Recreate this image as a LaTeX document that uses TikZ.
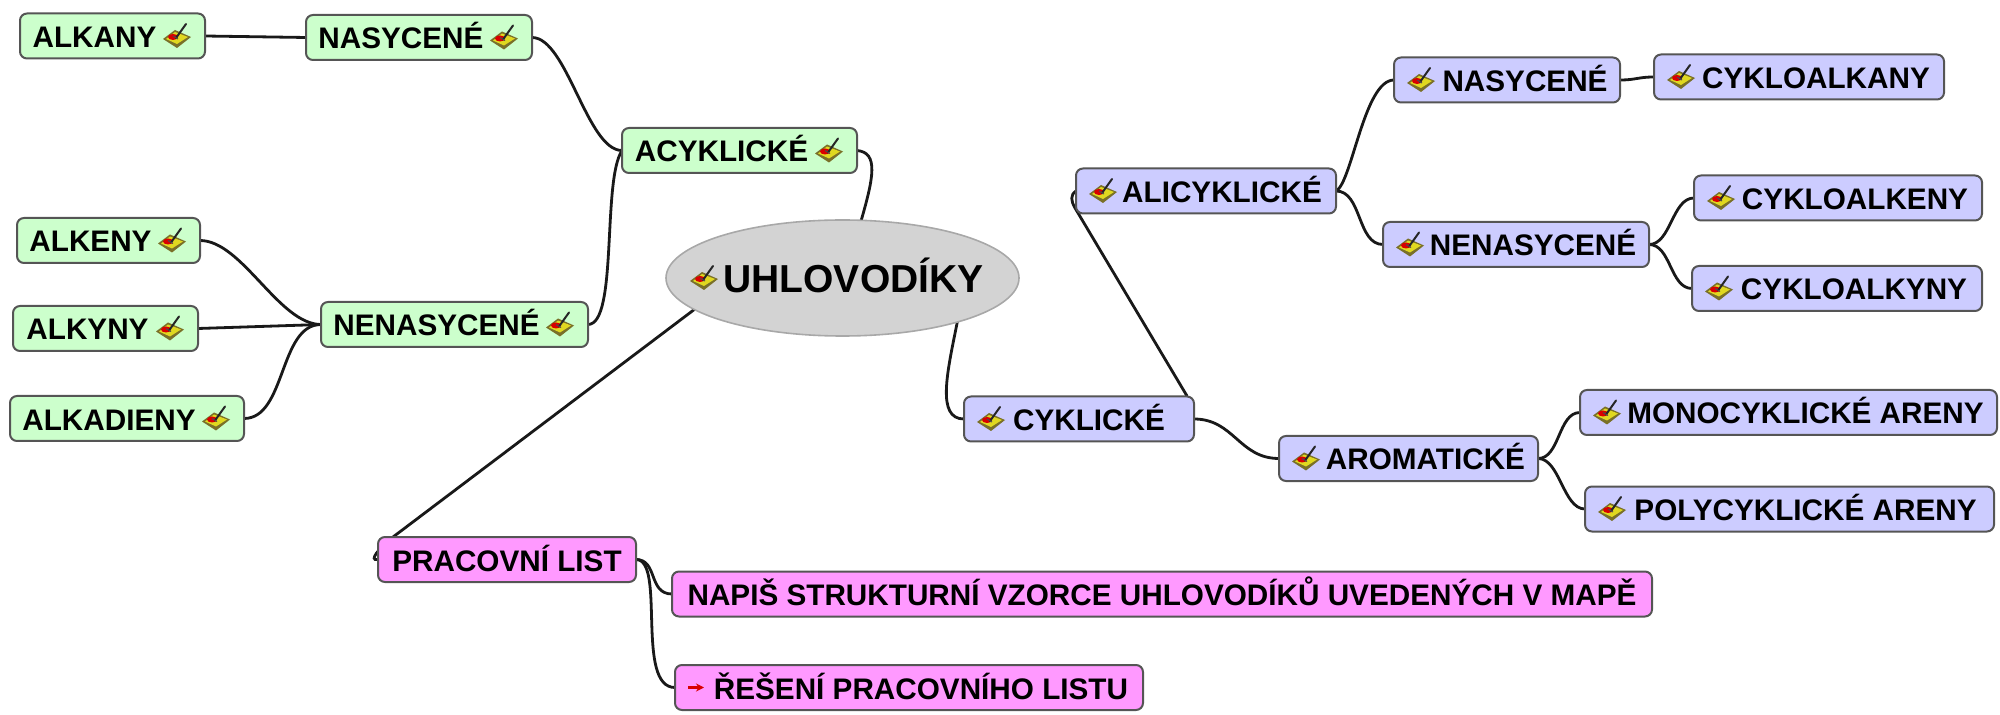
\documentclass[tikz,border=0pt]{standalone}
\usepackage{fontspec}
\setmainfont{Liberation Sans}
\usetikzlibrary{shapes.geometric,backgrounds,arrows.meta}
\definecolor{gfill}{HTML}{CCFFCC}
\definecolor{bfill}{HTML}{CCCCFF}
\definecolor{pfill}{HTML}{FF99FF}
\definecolor{edgec}{HTML}{555555}
\definecolor{rootf}{HTML}{D3D3D3}
\definecolor{rootb}{HTML}{A8A8A8}
\definecolor{booky}{HTML}{E0D820}
\definecolor{bookb}{HTML}{7A7028}
\newcommand{\icl}[1]{\hspace*{18pt}#1}
\newcommand{\icr}[1]{#1\hspace*{18pt}}
\tikzset{
  topic/.style={draw=edgec,line width=1pt,rounded corners=3.5pt,inner sep=0pt,outer sep=0pt,
    minimum height=22.5pt,text height=11.5pt,text depth=0pt,text=black,
    font=\fontsize{14.85pt}{16pt}\selectfont\bfseries},
  wd/.style={minimum width=#1*0.5pt},
  gbox/.style={topic,fill=gfill},
  bbox/.style={topic,fill=bfill},
  pbox/.style={topic,fill=pfill},
  conn/.style={line width=1.4pt,draw=black!90,line cap=round},
  sc/.style={to path={.. controls +(#1,0) and +(-#1,0) .. (\tikztotarget)}},
  pics/brush/.style={code={
    \fill[bookb] (-14,4) -- (-2,-5) -- (14,2) -- (0,13) -- cycle;
    \fill[booky] (-11,4) -- (-2,-3) -- (11,2) -- (0,9) -- cycle;
    \fill[red!85!black] (-4,2) ellipse [x radius=5,y radius=3];
    \draw[black!85,line width=1pt,line cap=round] (-1,3) -- (9,-11);
    \draw[black!70,line width=0.5pt] (-4,1) -- (1,4);
  }}
}
\begin{document}
\begin{tikzpicture}[x=0.5pt,y=-0.5pt]
\useasboundingbox (0,0) rectangle (2000,715);
% root
\node[ellipse,draw=rootb,line width=0.8pt,fill=rootf,inner sep=0pt,outer sep=0pt,minimum width=176.5pt,minimum height=58pt,
  text height=15pt,text depth=0pt,font=\fontsize{19.5pt}{22pt}\selectfont\bfseries] (root) at (842.5,278) {\makebox[0pt][c]{\hspace*{11pt}UHLOVODÍKY}};
% green
\node[gbox,wd=185] (alkany) at (112.5,36) {\icr{ALKANY}};
\node[gbox,wd=226] (nasl) at (419,37.5) {\icr{NASYCENÉ}};
\node[gbox,wd=235] (acy) at (739.5,150.5) {\icr{ACYKLICKÉ}};
\node[gbox,wd=183] (alkeny) at (108.5,240.5) {\icr{ALKENY}};
\node[gbox,wd=185] (alkyny) at (105.5,328.5) {\icr{ALKYNY}};
\node[gbox,wd=234] (alkad) at (127,418.5) {\icr{ALKADIENY}};
\node[gbox,wd=267] (nenl) at (454.5,324.5) {\icr{NENASYCENÉ}};
% blue
\node[bbox,wd=260] (ali) at (1206,191) {\hspace*{16pt}ALICYKLICKÉ};
\node[bbox,wd=226] (nasr) at (1507,80) {\icl{NASYCENÉ}};
\node[bbox,wd=290] (cka) at (1799,77) {\hspace*{17pt}CYKLOALKANY};
\node[bbox,wd=266] (nenr) at (1516,244.5) {\hspace*{17pt}NENASYCENÉ};
\node[bbox,wd=288] (cke) at (1838,198) {\hspace*{17pt}CYKLOALKENY};
\node[bbox,wd=290] (cky) at (1837,288.5) {\hspace*{17pt}CYKLOALKYNY};
\node[bbox,wd=230] (cyk) at (1079,419) {\hspace*{10pt}CYKLICKÉ};
\node[bbox,wd=259] (aro) at (1408.5,458.5) {\hspace*{17pt}AROMATICKÉ};
\node[bbox,wd=417] (mono) at (1788.5,412.5) {\hspace*{17pt}MONOCYKLICKÉ ARENY};
\node[bbox,wd=409] (poly) at (1789.5,509) {\hspace*{16pt}POLYCYKLICKÉ ARENY};
% pink
\node[pbox,wd=258] (prac) at (507,559.5) {PRACOVNÍ LIST};
\node[pbox,wd=980] (napis) at (1162,594) {NAPIŠ STRUKTURNÍ VZORCE UHLOVODÍKŮ UVEDENÝCH V MAPĚ};
\node[pbox,wd=468] (res) at (909,687.5) {\hspace*{12pt}ŘEŠENÍ PRACOVNÍHO LISTU};
% icons
\foreach \n in {alkany,nasl,acy,alkeny,alkyny,alkad,nenl}
  \pic at ([xshift=-14pt,yshift=0.5pt]\n.east) {brush};
\foreach \n in {ali,nasr,cka,nenr,cke,cky,cyk,aro,mono,poly}
  \pic at ([xshift=13.5pt,yshift=0.5pt]\n.west) {brush};
\pic at ([xshift=19pt,yshift=0.5pt]root.west) {brush};
\draw[red!85!black,line width=1.1pt,-{Stealth[length=4pt,width=4pt]}] ([xshift=6.5pt]res.west) -- ([xshift=14.5pt]res.west);
% connectors
\coordinate (pbend) at (393,537);
\coordinate (cyktop) at (1187,396);
\coordinate (alibend) at (1075,208);
\begin{scope}[on background layer]
\draw[conn] (alkany.east) -- (nasl.west);
\draw[conn] (nasl.east) to[sc=35] (acy.west);
\draw[conn] (nenl.east) .. controls +(30,0) and +(-20,30) .. (acy.west);
\draw[conn] (alkeny.east) to[sc=42] (nenl.west);
\draw[conn] (alkyny.east) -- (nenl.west);
\draw[conn] (alkad.east) to[sc=42] (nenl.west);
\draw[conn] (acy.east) .. controls +(22,2) and +(12,-42) .. (root.72);
\draw[conn] (root.-21) .. controls +(-10,50) and +(-28,0) .. (cyk.west);
\draw[conn] (root.192) -- (pbend) .. controls +(-14,11) and +(-10,2) .. (prac.west);
\draw[conn] (cyktop) -- (alibend) .. controls +(-4,-7) and +(-6,4) .. (ali.west);
\draw[conn] (cyk.east) to[sc=40] (aro.west);
\draw[conn] (ali.east) .. controls +(16,-8) and +(-30,0) .. (nasr.west);
\draw[conn] (ali.east) to[sc=26] (nenr.west);
\draw[conn] (nasr.east) to[sc=16] (cka.west);
\draw[conn] (nenr.east) to[sc=22] (cke.west);
\draw[conn] (nenr.east) to[sc=22] (cky.west);
\draw[conn] (aro.east) to[sc=22] (mono.west);
\draw[conn] (aro.east) to[sc=22] (poly.west);
\draw[conn] (prac.east) .. controls +(22,0) and +(-24,0) .. (napis.west);
\draw[conn] (prac.east) .. controls +(30,0) and +(-40,0) .. (res.west);
\end{scope}
\end{tikzpicture}
\end{document}
